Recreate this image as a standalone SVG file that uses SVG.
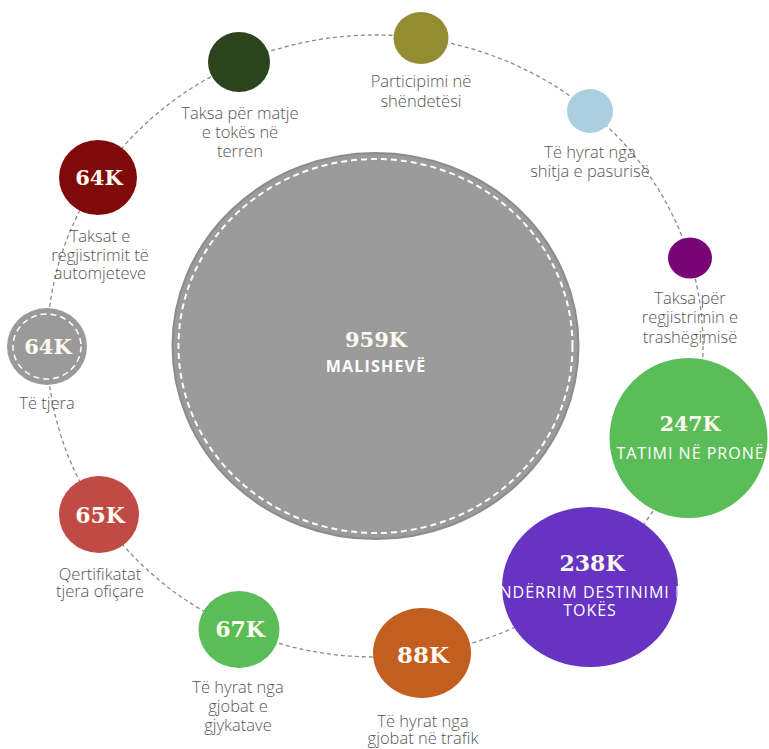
<svg xmlns="http://www.w3.org/2000/svg" width="769" height="749" viewBox="0 0 769 749">
<style>
.lbl{font-family:"Open Sans","Liberation Sans",sans-serif;font-weight:300;font-size:16.5px;fill:#555;text-anchor:middle}
.num{font-family:"DejaVu Serif","Liberation Serif",serif;font-weight:700;fill:#fffaf0;text-anchor:middle}
.cap{font-family:"Open Sans","Liberation Sans",sans-serif;font-size:16px;fill:#fff;text-anchor:middle;letter-spacing:1px}
.ring{fill:none;stroke:#fff;stroke-dasharray:6 4}
</style>
<defs>
<clipPath id="clipPurple"><ellipse cx="590" cy="587" rx="88" ry="80"/></clipPath>
</defs>
<rect width="769" height="749" fill="#fff"/>
<g id="connectors">
<ellipse cx="375" cy="346" rx="328" ry="311" fill="none" stroke="#8a8a8a" stroke-width="1.3" stroke-dasharray="4 3"/>
</g>
<g id="malisheve">
<ellipse cx="375.5" cy="346" rx="203" ry="193" fill="#9b9b9b" stroke="#8c8c8c" stroke-width="2"/>
<ellipse class="ring" cx="375.5" cy="346" rx="197" ry="187" stroke-width="2"/>
<text class="num" x="376" y="347" font-size="21">959K</text>
<text x="376" y="372" font-family="'Open Sans','Liberation Sans',sans-serif" font-weight="700" font-size="16" fill="#fff" text-anchor="middle" letter-spacing="1.2">MALISHEVË</text>
</g>
<g id="taksa-matje">
<ellipse cx="239" cy="62" rx="31" ry="30" fill="#2b441b"/>
<text class="lbl" x="240" y="119">Taksa për matje</text>
<text class="lbl" x="240" y="138">e tokës në</text>
<text class="lbl" x="240" y="157">terren</text>
</g>
<g id="participimi">
<ellipse cx="421" cy="38" rx="27.5" ry="26" fill="#948c30"/>
<text class="lbl" x="421" y="87">Participimi në</text>
<text class="lbl" x="421" y="106.5">shëndetësi</text>
</g>
<g id="shitja">
<ellipse cx="590" cy="111" rx="23" ry="22" fill="#aad0e0"/>
<text class="lbl" x="590" y="158">Të hyrat nga</text>
<text class="lbl" x="590" y="176.5">shitja e pasurisë</text>
</g>
<g id="trashegimia">
<ellipse cx="690" cy="258" rx="22" ry="20.5" fill="#780578"/>
<text class="lbl" x="690" y="304">Taksa për</text>
<text class="lbl" x="690" y="323">regjistrimin e</text>
<text class="lbl" x="690" y="342.5">trashëgimisë</text>
</g>
<g id="tatimi-prone">
<ellipse cx="688.5" cy="438" rx="79" ry="80" fill="#5bbd57"/>
<text class="num" x="690" y="430.5" font-size="20.5">247K</text>
<text class="cap" x="690.5" y="459">TATIMI NË PRONË</text>
</g>
<g id="nderrim-destinimi">
<ellipse cx="590" cy="587" rx="88" ry="80" fill="#6633c3"/>
<text class="num" x="592" y="571" font-size="22">238K</text>
<text class="cap" x="590" y="598" clip-path="url(#clipPurple)">NDËRRIM DESTINIMI I</text>
<text class="cap" x="590" y="616">TOKËS</text>
</g>
<g id="gjobat-trafik">
<ellipse cx="422" cy="653" rx="49" ry="45" fill="#c25e1f"/>
<text class="num" x="423" y="663" font-size="23">88K</text>
<text class="lbl" x="423" y="726.5">Të hyrat nga</text>
<text class="lbl" x="423" y="744">gjobat në trafik</text>
</g>
<g id="gjobat-gjykatave">
<ellipse cx="239" cy="629.5" rx="40.5" ry="38.5" fill="#5bbd57"/>
<text class="num" x="240" y="637" font-size="22">67K</text>
<text class="lbl" x="238" y="693">Të hyrat nga</text>
<text class="lbl" x="238" y="711.5">gjobat e</text>
<text class="lbl" x="238" y="730.5">gjykatave</text>
</g>
<g id="qertifikatat">
<ellipse cx="99" cy="514.5" rx="40" ry="38.5" fill="#c04a46"/>
<text class="num" x="100" y="523" font-size="22">65K</text>
<text class="lbl" x="100" y="580">Qertifikatat</text>
<text class="lbl" x="100" y="597">tjera ofiçare</text>
</g>
<g id="te-tjera">
<ellipse cx="47" cy="346.5" rx="40" ry="38.5" fill="#9a9a9a"/>
<ellipse class="ring" cx="47" cy="346.5" rx="34" ry="32.5" stroke-width="1.5" stroke-dasharray="5 3"/>
<text class="num" x="48" y="354" font-size="21">64K</text>
<text class="lbl" x="47" y="409">Të tjera</text>
</g>
<g id="automjetet">
<ellipse cx="98" cy="177.5" rx="39" ry="37.5" fill="#800a0a"/>
<text class="num" x="99" y="185" font-size="21">64K</text>
<text class="lbl" x="100" y="241.5">Taksat e</text>
<text class="lbl" x="100" y="260.5">regjistrimit të</text>
<text class="lbl" x="100" y="279">automjeteve</text>
</g>
</svg>
